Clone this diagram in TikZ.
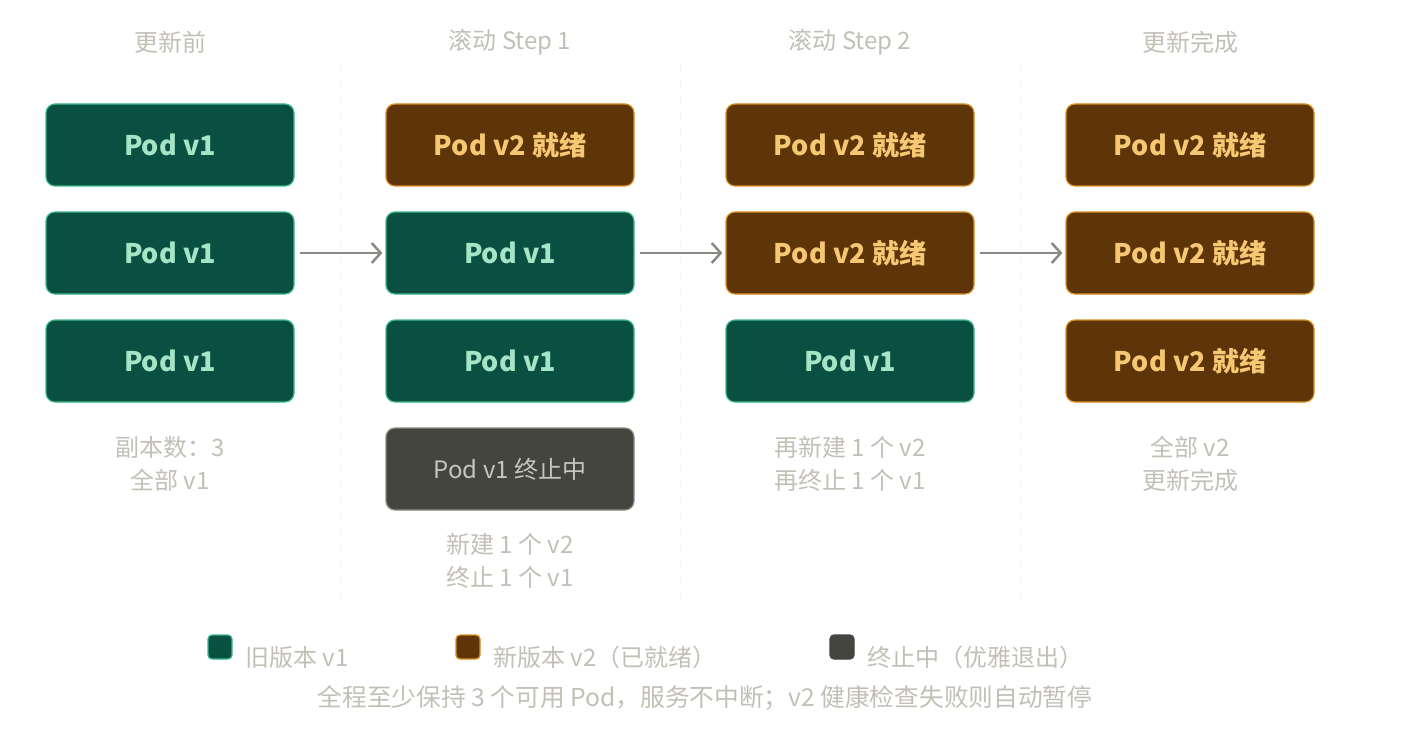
\documentclass[tikz,border=0pt]{standalone}
\usepackage{fontspec}
\setmainfont{Noto Sans CJK SC}
\usetikzlibrary{arrows.meta}
\definecolor{oldfill}{HTML}{0A5042}
\definecolor{oldline}{HTML}{3DB88A}
\definecolor{oldtext}{HTML}{A6E4C6}
\definecolor{newfill}{HTML}{5E3508}
\definecolor{newline}{HTML}{D9901F}
\definecolor{newtext}{HTML}{F7C873}
\definecolor{termfill}{HTML}{454540}
\definecolor{termline}{HTML}{8C8A82}
\definecolor{termtext}{HTML}{C8C6BC}
\definecolor{capt}{HTML}{C2C0B6}
\definecolor{sep}{HTML}{F4F4F4}
\definecolor{arrc}{HTML}{8A8A84}
\tikzset{
  pod/.style={rounded corners=9pt, minimum width=248pt, minimum height=82pt, inner sep=0pt, line width=1.2pt, font=\fontsize{27}{32}\selectfont\bfseries},
  oldpod/.style={pod, fill=oldfill, draw=oldline, text=oldtext},
  newpod/.style={pod, fill=newfill, draw=newline, text=newtext},
  termpod/.style={pod, fill=termfill, draw=termline, text=termtext, font=\fontsize{24}{29}\selectfont},
  ttl/.style={text=capt, font=\fontsize{24}{29}\selectfont, inner sep=0pt},
  captxt/.style={text=capt, font=\fontsize{24}{33}\selectfont, align=center, inner sep=0pt},
  sepline/.style={draw=sep, line width=1pt, dash pattern=on 8pt off 8pt},
  arr/.style={draw=arrc, line width=2.5pt, -{Straight Barb[length=9pt,width=20pt,line width=2.5pt]}, shorten <=5pt, shorten >=3pt},
  legsq/.style={minimum size=24pt, inner sep=0pt, rounded corners=4pt, line width=1.2pt},
  legtx/.style={text=capt, font=\fontsize{24}{29}\selectfont, inner sep=0pt, anchor=west}
}
\begin{document}
\begin{tikzpicture}[x=1pt,y=-1pt]
\useasboundingbox[fill=white] (0,0) rectangle (1410,746);
% separators
\coordinate (s1t) at (340,65); \coordinate (s1b) at (340,600);
\coordinate (s2t) at (680,65); \coordinate (s2b) at (680,600);
\coordinate (s3t) at (1020,65); \coordinate (s3b) at (1020,600);
\draw[sepline] (s1t) -- (s1b);
\draw[sepline] (s2t) -- (s2b);
\draw[sepline] (s3t) -- (s3b);
% titles
\node[ttl] (t1) at (170,42) {更新前};
\node[ttl] (t2) at (510,42) {滚动 Step 1};
\node[ttl] (t3) at (850,42) {滚动 Step 2};
\node[ttl] (t4) at (1190,42) {更新完成};
% column 1
\node[oldpod] (a1) at (170,145) {Pod v1};
\node[oldpod] (a2) at (170,253) {Pod v1};
\node[oldpod] (a3) at (170,361) {Pod v1};
\node[captxt] (ca) at (170,464) {副本数：3\\全部 v1};
% column 2
\node[newpod] (b1) at (510,145) {Pod v2 就绪};
\node[oldpod] (b2) at (510,253) {Pod v1};
\node[oldpod] (b3) at (510,361) {Pod v1};
\node[termpod] (b4) at (510,469) {Pod v1 终止中};
\node[captxt] (cb) at (510,561) {新建 1 个 v2\\终止 1 个 v1};
% column 3
\node[newpod] (c1) at (850,145) {Pod v2 就绪};
\node[newpod] (c2) at (850,253) {Pod v2 就绪};
\node[oldpod] (c3) at (850,361) {Pod v1};
\node[captxt] (cc) at (850,464) {再新建 1 个 v2\\再终止 1 个 v1};
% column 4
\node[newpod] (d1) at (1190,145) {Pod v2 就绪};
\node[newpod] (d2) at (1190,253) {Pod v2 就绪};
\node[newpod] (d3) at (1190,361) {Pod v2 就绪};
\node[captxt] (cd) at (1190,464) {全部 v2\\更新完成};
% arrows
\draw[arr] (a2) -- (b2);
\draw[arr] (b2) -- (c2);
\draw[arr] (c2) -- (d2);
% legend
\node[legsq, fill=oldfill, draw=oldline] (l1) at (220,647) {};
\node[legtx] (l1t) at (245,657) {旧版本 v1};
\node[legsq, fill=newfill, draw=newline] (l2) at (468,647) {};
\node[legtx] (l2t) at (493,657) {新版本 v2（已就绪）};
\node[legsq, fill=termfill, draw=termfill] (l3) at (842,647) {};
\node[legtx] (l3t) at (867,657) {终止中（优雅退出）};
\node[text=capt, font=\fontsize{24.7}{29}\selectfont, inner sep=0pt] (note) at (705,698) {全程至少保持 3 个可用 Pod，服务不中断；v2 健康检查失败则自动暂停};
\end{tikzpicture}
\end{document}
